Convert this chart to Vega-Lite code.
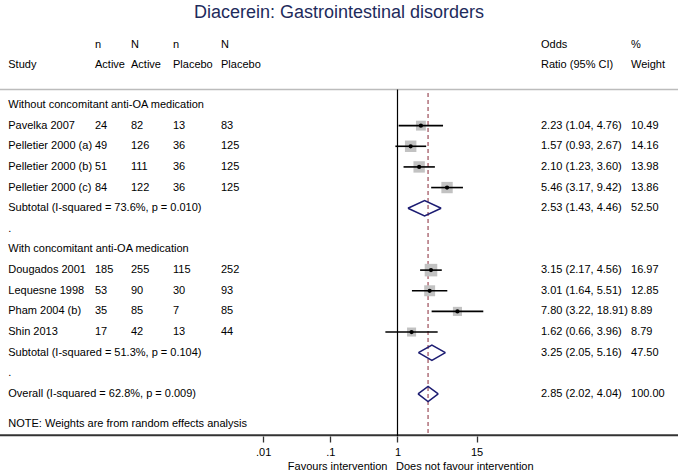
{
  "$schema": "https://vega.github.io/schema/vega-lite/v6.json",
  "width": 678,
  "height": 406,
  "autosize": {"type": "none"},
  "padding": {"top": 30, "left": 0, "right": 0, "bottom": 38},
  "background": "white",
  "title": {"text": "Diacerein: Gastrointestinal disorders", "fontSize": 18, "font": "Liberation Sans", "fontWeight": "normal", "color": "#1e2b5c", "anchor": "middle", "offset": 8},
  "config": {"view": {"stroke": null}, "font": "Liberation Sans", "text": {"font": "Liberation Sans", "fontSize": 11, "color": "#000000", "baseline": "middle", "align": "left"},
    "axisX": {"grid": false, "domain": false, "ticks": true, "tickColor": "#333333", "tickWidth": 1.3, "tickSize": 6, "labelFontSize": 11, "labelFont": "Liberation Sans", "labelColor": "#000000", "labelPadding": 4, "labelFlush": false, "labelOverlap": false, "zindex": 1}},
  "datasets": {
    "table": [
      {"row": -2.9, "type": "header", "nA": "n", "NA": "N", "nP": "n", "NP": "N", "ci": "Odds", "wt": "%"},
      {"row": -1.95, "type": "header", "study": "Study", "nA": "Active", "NA": "Active", "nP": "Placebo", "NP": "Placebo", "ci": "Ratio (95% CI)", "wt": "Weight"},
      {"row": 0, "type": "group", "study": "Without concomitant anti-OA medication"},
      {"row": 1, "type": "study", "study": "Pavelka 2007", "nA": 24, "NA": 82, "nP": 13, "NP": 83, "es": 2.23, "lci": 1.04, "uci": 4.76, "w": 10.49, "ci": "2.23 (1.04, 4.76)", "wt": "10.49"},
      {"row": 2, "type": "study", "study": "Pelletier 2000 (a)", "nA": 49, "NA": 126, "nP": 36, "NP": 125, "es": 1.57, "lci": 0.93, "uci": 2.67, "w": 14.16, "ci": "1.57 (0.93, 2.67)", "wt": "14.16"},
      {"row": 3, "type": "study", "study": "Pelletier 2000 (b)", "nA": 51, "NA": 111, "nP": 36, "NP": 125, "es": 2.10, "lci": 1.23, "uci": 3.60, "w": 13.98, "ci": "2.10 (1.23, 3.60)", "wt": "13.98"},
      {"row": 4, "type": "study", "study": "Pelletier 2000 (c)", "nA": 84, "NA": 122, "nP": 36, "NP": 125, "es": 5.46, "lci": 3.17, "uci": 9.42, "w": 13.86, "ci": "5.46 (3.17, 9.42)", "wt": "13.86"},
      {"row": 5, "type": "pooled", "study": "Subtotal  (I-squared = 73.6%, p = 0.010)", "es": 2.53, "lci": 1.43, "uci": 4.46, "ci": "2.53 (1.43, 4.46)", "wt": "52.50"},
      {"row": 6, "type": "blank", "study": "."},
      {"row": 7, "type": "group", "study": "With concomitant anti-OA medication"},
      {"row": 8, "type": "study", "study": "Dougados 2001", "nA": 185, "NA": 255, "nP": 115, "NP": 252, "es": 3.15, "lci": 2.17, "uci": 4.56, "w": 16.97, "ci": "3.15 (2.17, 4.56)", "wt": "16.97"},
      {"row": 9, "type": "study", "study": "Lequesne 1998", "nA": 53, "NA": 90, "nP": 30, "NP": 93, "es": 3.01, "lci": 1.64, "uci": 5.51, "w": 12.85, "ci": "3.01 (1.64, 5.51)", "wt": "12.85"},
      {"row": 10, "type": "study", "study": "Pham 2004 (b)", "nA": 35, "NA": 85, "nP": 7, "NP": 85, "es": 7.80, "lci": 3.22, "uci": 18.91, "w": 8.89, "ci": "7.80 (3.22, 18.91)", "wt": "8.89"},
      {"row": 11, "type": "study", "study": "Shin 2013", "nA": 17, "NA": 42, "nP": 13, "NP": 44, "es": 1.62, "lci": 0.66, "uci": 3.96, "w": 8.79, "ci": "1.62 (0.66, 3.96)", "wt": "8.79"},
      {"row": 12, "type": "pooled", "study": "Subtotal  (I-squared = 51.3%, p = 0.104)", "es": 3.25, "lci": 2.05, "uci": 5.16, "ci": "3.25 (2.05, 5.16)", "wt": "47.50"},
      {"row": 13, "type": "blank", "study": "."},
      {"row": 14, "type": "overall", "study": "Overall  (I-squared = 62.8%, p = 0.009)", "es": 2.85, "lci": 2.02, "uci": 4.04, "ci": "2.85 (2.02, 4.04)", "wt": "100.00"},
      {"row": 15.45, "type": "note", "study": "NOTE: Weights are from random effects analysis"},
      {"row": 17.54, "type": "xlab", "left": "Favours intervention", "right": "Does not favour intervention"}
    ]
  },
  "data": {"name": "table"},
  "encoding": {
    "y": {"field": "row", "type": "quantitative", "scale": {"domain": [-3.634, 16.037], "reverse": true, "nice": false, "zero": false}, "axis": null}
  },
  "layer": [
    {
      "transform": [{"filter": "datum.type == 'header' && isValid(datum.study)"}],
      "mark": {"type": "rule", "color": "#bcbcbc", "strokeWidth": 1.3},
      "encoding": {
        "x": {"datum": 1.216e-6, "type": "quantitative", "title": null, "scale": {"type": "log", "domain": [1.216e-6, 14930], "nice": false}, "axis": {"values": [0.01, 0.1, 1, 15], "labelExpr": "datum.value < 0.05 ? '.01' : datum.value < 0.5 ? '.1' : datum.value < 5 ? '1' : '15'", "title": null}},
        "x2": {"datum": 14930},
        "y": {"datum": -0.75, "type": "quantitative"}
      }
    },
    {
      "transform": [{"filter": "datum.type == 'note'"}],
      "mark": {"type": "rule", "color": "#333333", "strokeWidth": 1.8},
      "encoding": {
        "x": {"datum": 1.216e-6, "type": "quantitative", "title": null, "scale": {"type": "log", "domain": [1.216e-6, 14930], "nice": false}, "axis": {"values": [0.01, 0.1, 1, 15], "labelExpr": "datum.value < 0.05 ? '.01' : datum.value < 0.5 ? '.1' : datum.value < 5 ? '1' : '15'", "title": null}},
        "x2": {"datum": 14930},
        "y": {"datum": 16.0, "type": "quantitative"}
      }
    },
    {
      "transform": [{"filter": "datum.type == 'overall'"}],
      "mark": {"type": "rule", "color": "#000000", "strokeWidth": 1.2},
      "encoding": {
        "x": {"datum": 1, "type": "quantitative", "title": null, "scale": {"type": "log", "domain": [1.216e-6, 14930], "nice": false}, "axis": {"values": [0.01, 0.1, 1, 15], "labelExpr": "datum.value < 0.05 ? '.01' : datum.value < 0.5 ? '.1' : datum.value < 5 ? '1' : '15'", "title": null}},
        "y": {"datum": -0.75, "type": "quantitative"},
        "y2": {"datum": 16.037}
      }
    },
    {
      "transform": [{"filter": "datum.type == 'overall'"}],
      "mark": {"type": "rule", "color": "#b0707a", "strokeWidth": 1.5, "strokeDash": [4, 3]},
      "encoding": {
        "x": {"field": "es", "type": "quantitative", "title": null, "scale": {"type": "log", "domain": [1.216e-6, 14930], "nice": false}, "axis": {"values": [0.01, 0.1, 1, 15], "labelExpr": "datum.value < 0.05 ? '.01' : datum.value < 0.5 ? '.1' : datum.value < 5 ? '1' : '15'", "title": null}},
        "y": {"datum": -0.58, "type": "quantitative"},
        "y2": {"datum": 16.0}
      }
    },
    {
      "transform": [{"filter": "datum.type == 'study'"}],
      "mark": {"type": "point", "shape": "square", "filled": true, "color": "#c2c2c2", "opacity": 1},
      "encoding": {
        "x": {"field": "es", "type": "quantitative", "title": null, "scale": {"type": "log", "domain": [1.216e-6, 14930], "nice": false}, "axis": {"values": [0.01, 0.1, 1, 15], "labelExpr": "datum.value < 0.05 ? '.01' : datum.value < 0.5 ? '.1' : datum.value < 5 ? '1' : '15'", "title": null}},
        "size": {"field": "w", "type": "quantitative", "scale": {"domain": [0, 17], "range": [0, 158]}, "legend": null}
      }
    },
    {
      "transform": [{"filter": "datum.type == 'study'"}],
      "mark": {"type": "rule", "color": "#000000", "strokeWidth": 1.6},
      "encoding": {
        "x": {"field": "lci", "type": "quantitative", "title": null, "scale": {"type": "log", "domain": [1.216e-6, 14930], "nice": false}, "axis": {"values": [0.01, 0.1, 1, 15], "labelExpr": "datum.value < 0.05 ? '.01' : datum.value < 0.5 ? '.1' : datum.value < 5 ? '1' : '15'", "title": null}},
        "x2": {"field": "uci"}
      }
    },
    {
      "transform": [{"filter": "datum.type == 'study'"}],
      "mark": {"type": "point", "shape": "circle", "filled": true, "color": "#000000", "size": 18, "opacity": 1},
      "encoding": {
        "x": {"field": "es", "type": "quantitative", "title": null, "scale": {"type": "log", "domain": [1.216e-6, 14930], "nice": false}, "axis": {"values": [0.01, 0.1, 1, 15], "labelExpr": "datum.value < 0.05 ? '.01' : datum.value < 0.5 ? '.1' : datum.value < 5 ? '1' : '15'", "title": null}}
      }
    },
    {
      "transform": [
        {"filter": "datum.type == 'pooled' || datum.type == 'overall'"},
        {"fold": ["lci", "es", "uci"], "as": ["k", "v"]},
        {"calculate": "datum.k == 'es' ? datum.row - 0.37 : datum.row", "as": "top"}
      ],
      "mark": {"type": "line", "color": "#1c1c72", "strokeWidth": 1.5},
      "encoding": {
        "x": {"field": "v", "type": "quantitative", "title": null, "scale": {"type": "log", "domain": [1.216e-6, 14930], "nice": false}, "axis": {"values": [0.01, 0.1, 1, 15], "labelExpr": "datum.value < 0.05 ? '.01' : datum.value < 0.5 ? '.1' : datum.value < 5 ? '1' : '15'", "title": null}},
        "y": {"field": "top", "type": "quantitative", "scale": {"domain": [-3.634, 16.037], "reverse": true, "nice": false, "zero": false}, "axis": null},
        "detail": {"field": "row", "type": "nominal"},
        "order": {"field": "v", "type": "quantitative"}
      }
    },
    {
      "transform": [
        {"filter": "datum.type == 'pooled' || datum.type == 'overall'"},
        {"fold": ["lci", "es", "uci"], "as": ["k", "v"]},
        {"calculate": "datum.k == 'es' ? datum.row + 0.37 : datum.row", "as": "bot"}
      ],
      "mark": {"type": "line", "color": "#1c1c72", "strokeWidth": 1.5},
      "encoding": {
        "x": {"field": "v", "type": "quantitative", "title": null, "scale": {"type": "log", "domain": [1.216e-6, 14930], "nice": false}, "axis": {"values": [0.01, 0.1, 1, 15], "labelExpr": "datum.value < 0.05 ? '.01' : datum.value < 0.5 ? '.1' : datum.value < 5 ? '1' : '15'", "title": null}},
        "y": {"field": "bot", "type": "quantitative", "scale": {"domain": [-3.634, 16.037], "reverse": true, "nice": false, "zero": false}, "axis": null},
        "detail": {"field": "row", "type": "nominal"},
        "order": {"field": "v", "type": "quantitative"}
      }
    },
    {
      "transform": [{"filter": "isValid(datum.study)"}],
      "mark": {"type": "text"},
      "encoding": {
        "x": {"datum": 1.615e-6, "type": "quantitative", "title": null, "scale": {"type": "log", "domain": [1.216e-6, 14930], "nice": false}, "axis": {"values": [0.01, 0.1, 1, 15], "labelExpr": "datum.value < 0.05 ? '.01' : datum.value < 0.5 ? '.1' : datum.value < 5 ? '1' : '15'", "title": null}},
        "text": {"field": "study", "type": "nominal"}
      }
    },
    {
      "transform": [{"filter": "isValid(datum.nA)"}],
      "mark": {"type": "text"},
      "encoding": {
        "x": {"datum": 3.151e-5, "type": "quantitative", "title": null, "scale": {"type": "log", "domain": [1.216e-6, 14930], "nice": false}, "axis": {"values": [0.01, 0.1, 1, 15], "labelExpr": "datum.value < 0.05 ? '.01' : datum.value < 0.5 ? '.1' : datum.value < 5 ? '1' : '15'", "title": null}},
        "text": {"field": "nA", "type": "nominal"}
      }
    },
    {
      "transform": [{"filter": "isValid(datum.NA)"}],
      "mark": {"type": "text"},
      "encoding": {
        "x": {"datum": 1.082e-4, "type": "quantitative", "title": null, "scale": {"type": "log", "domain": [1.216e-6, 14930], "nice": false}, "axis": {"values": [0.01, 0.1, 1, 15], "labelExpr": "datum.value < 0.05 ? '.01' : datum.value < 0.5 ? '.1' : datum.value < 5 ? '1' : '15'", "title": null}},
        "text": {"field": "NA", "type": "nominal"}
      }
    },
    {
      "transform": [{"filter": "isValid(datum.nP)"}],
      "mark": {"type": "text"},
      "encoding": {
        "x": {"datum": 4.562e-4, "type": "quantitative", "title": null, "scale": {"type": "log", "domain": [1.216e-6, 14930], "nice": false}, "axis": {"values": [0.01, 0.1, 1, 15], "labelExpr": "datum.value < 0.05 ? '.01' : datum.value < 0.5 ? '.1' : datum.value < 5 ? '1' : '15'", "title": null}},
        "text": {"field": "nP", "type": "nominal"}
      }
    },
    {
      "transform": [{"filter": "isValid(datum.NP)"}],
      "mark": {"type": "text"},
      "encoding": {
        "x": {"datum": 2.363e-3, "type": "quantitative", "title": null, "scale": {"type": "log", "domain": [1.216e-6, 14930], "nice": false}, "axis": {"values": [0.01, 0.1, 1, 15], "labelExpr": "datum.value < 0.05 ? '.01' : datum.value < 0.5 ? '.1' : datum.value < 5 ? '1' : '15'", "title": null}},
        "text": {"field": "NP", "type": "nominal"}
      }
    },
    {
      "transform": [{"filter": "isValid(datum.ci)"}],
      "mark": {"type": "text"},
      "encoding": {
        "x": {"datum": 136.6, "type": "quantitative", "title": null, "scale": {"type": "log", "domain": [1.216e-6, 14930], "nice": false}, "axis": {"values": [0.01, 0.1, 1, 15], "labelExpr": "datum.value < 0.05 ? '.01' : datum.value < 0.5 ? '.1' : datum.value < 5 ? '1' : '15'", "title": null}},
        "text": {"field": "ci", "type": "nominal"}
      }
    },
    {
      "transform": [{"filter": "isValid(datum.wt)"}],
      "mark": {"type": "text"},
      "encoding": {
        "x": {"datum": 2984, "type": "quantitative", "title": null, "scale": {"type": "log", "domain": [1.216e-6, 14930], "nice": false}, "axis": {"values": [0.01, 0.1, 1, 15], "labelExpr": "datum.value < 0.05 ? '.01' : datum.value < 0.5 ? '.1' : datum.value < 5 ? '1' : '15'", "title": null}},
        "text": {"field": "wt", "type": "nominal"}
      }
    },
    {
      "transform": [{"filter": "isValid(datum.left)"}],
      "mark": {"type": "text", "align": "right", "dx": -10},
      "encoding": {
        "x": {"datum": 1, "type": "quantitative", "title": null, "scale": {"type": "log", "domain": [1.216e-6, 14930], "nice": false}, "axis": {"values": [0.01, 0.1, 1, 15], "labelExpr": "datum.value < 0.05 ? '.01' : datum.value < 0.5 ? '.1' : datum.value < 5 ? '1' : '15'", "title": null}},
        "text": {"field": "left", "type": "nominal"}
      }
    },
    {
      "transform": [{"filter": "isValid(datum.right)"}],
      "mark": {"type": "text", "align": "left", "dx": -1.5},
      "encoding": {
        "x": {"datum": 1, "type": "quantitative", "title": null, "scale": {"type": "log", "domain": [1.216e-6, 14930], "nice": false}, "axis": {"values": [0.01, 0.1, 1, 15], "labelExpr": "datum.value < 0.05 ? '.01' : datum.value < 0.5 ? '.1' : datum.value < 5 ? '1' : '15'", "title": null}},
        "text": {"field": "right", "type": "nominal"}
      }
    }
  ]
}
